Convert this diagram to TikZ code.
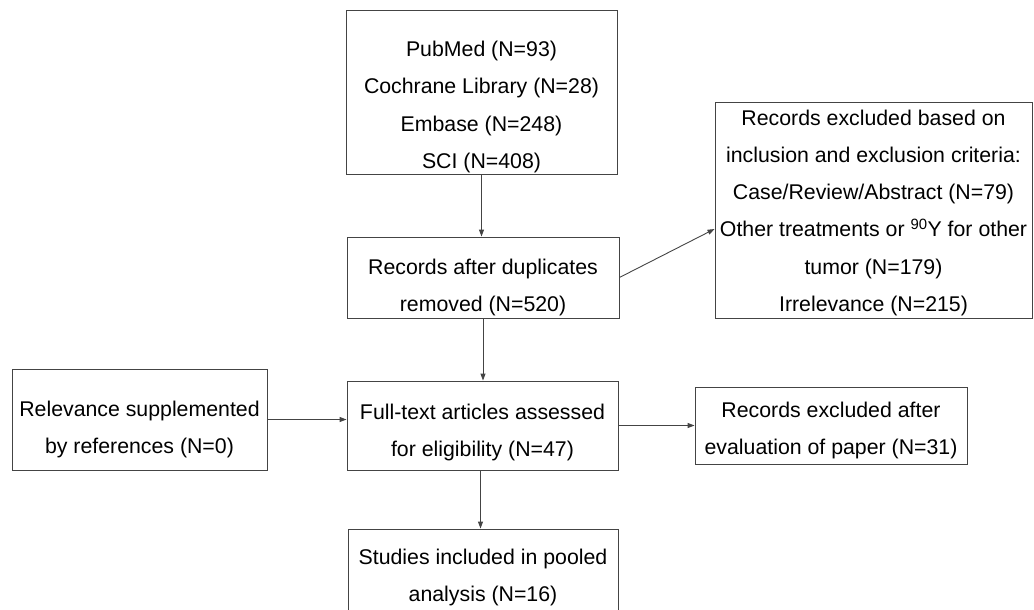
\documentclass[tikz,border=0pt]{standalone}
\usepackage{fontspec}
\setmainfont{Liberation Sans}
\usetikzlibrary{arrows.meta}
\definecolor{edge}{HTML}{444444}
\def\flow{\draw[edge,line width=0.9pt,-{Triangle[length=7pt,width=5pt]}]}
\tikzset{box/.style={draw=edge,line width=0.9pt,align=center,inner sep=0pt,text depth=0pt,
    font=\fontsize{21.3}{37.3}\selectfont}}

\begin{document}
\begin{tikzpicture}[x=1pt,y=-1pt]
    \useasboundingbox (0,0) rectangle (1034,610);
    \clip (0,0) rectangle (1034,610);
    \node[box,minimum width=271pt,minimum height=164pt,text height=153pt] (search) at (481.5,92)
        {PubMed (N=93)\\Cochrane Library (N=28)\\Embase (N=248)\\SCI (N=408)};
    \node[box,minimum width=272pt,minimum height=81pt,text height=68pt] (dedup) at (483,277.5)
        {Records after duplicates\\removed (N=520)};
    \node[box,minimum width=317pt,minimum height=216pt,text height=203pt] (excl) at (873.5,210)
        {Records excluded based on\\inclusion and exclusion criteria:\\Case/Review/Abstract (N=79)\\
         Other treatments or \textsuperscript{90}Y for other\\tumor (N=179)\\Irrelevance (N=215)};
    \node[box,minimum width=255pt,minimum height=101pt,text height=68pt] (refs) at (139.5,419.5)
        {Relevance supplemented\\by references (N=0)};
    \node[box,minimum width=271pt,minimum height=89pt,text height=62pt] (full) at (482.5,425.5)
        {Full-text articles assessed\\for eligibility (N=47)};
    \node[box,minimum width=272pt,minimum height=77pt,text height=58pt] (eval) at (831,425.5)
        {Records excluded after\\evaluation of paper (N=31)};
    \node[box,minimum width=270pt,minimum height=100pt,text height=45pt] (pooled) at (483,579)
        {Studies included in pooled\\analysis (N=16)};
    % connectors
    \flow (search.south) -- (search.south |- dedup.north);
    \flow (dedup.east) -- ([yshift=-19pt]excl.west);
    \flow (dedup.south) -- (dedup.south |- full.north);
    \flow (refs.east) -- (refs.east -| full.west);
    \flow (full) -- (eval);
    \flow ([xshift=-2pt]full.south) -- ([xshift=-2pt]full.south |- pooled.north);
\end{tikzpicture}
\end{document}
